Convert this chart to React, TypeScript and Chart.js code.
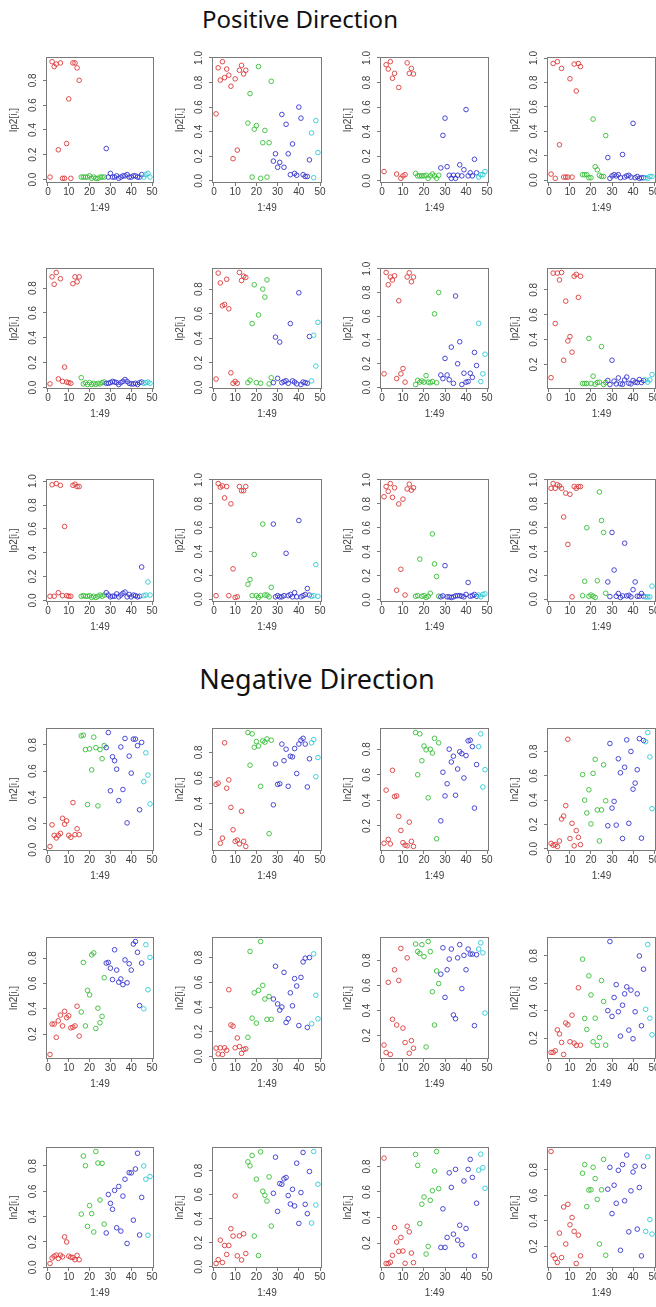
import React, { useEffect, useRef } from 'react';
import { Chart, registerables } from 'chart.js';

Chart.register(...registerables);

// ---------- data ----------
const xIndex = [
  1, 2, 3, 4, 5, 6, 7, 8, 9, 10, 11, 12, 13, 14, 15, 16, 17, 18, 19, 20, 21, 22, 23, 24, 25,
  26, 27, 28, 29, 30, 31, 32, 33, 34, 35, 36, 37, 38, 39, 40, 41, 42, 43, 44, 45, 46, 47, 48, 49,
];
const groupSizes = [15, 12, 18, 4];
const groupColors = ['#DD3A3A', '#35BE35', '#3535CF', '#2CCBD6'];
const xTickValues = [0, 10, 20, 30, 40, 50];
const yTickValues = [0, 0.2, 0.4, 0.6, 0.8, 1.0];

const sectionTitles = ['Positive Direction', 'Negative Direction'];
const yTitles = ['lp2[i,]', 'ln2[i,]'];
const xTitle = '1:49';

const pos1 = [0.02,0.95,0.91,0.93,0.24,0.94,0.01,0.01,0.29,0.65,0.01,0.94,0.94,0.90,0.80, 0.02,0.02,0.02,0.02,0.03,0.01,0.02,0.01,0.01,0.02,0.02,0.02, 0.25,0.02,0.05,0.02,0.02,0.03,0.01,0.02,0.03,0.03,0.04,0.02,0.02,0.03,0.03,0.02,0.02,0.04, 0.02,0.04,0.05,0.02];
const pos2 = [0.545,0.92,0.82,0.97,0.84,0.91,0.86,0.77,0.18,0.83,0.25,0.90,0.94,0.87,0.90, 0.47,0.71,0.03,0.42,0.45,0.93,0.02,0.31,0.41,0.03,0.31,0.81, 0.16,0.22,0.11,0.15,0.54,0.11,0.46,0.22,0.05,0.30,0.06,0.045,0.60,0.51,0.05,0.035,0.035,0.17, 0.39,0.025,0.49,0.23];
const pos3 = [0.075,0.945,0.91,0.97,0.835,0.875,0.055,0.76,0.02,0.04,0.05,0.96,0.875,0.915,0.87, 0.06,0.04,0.04,0.04,0.04,0.045,0.02,0.04,0.055,0.04,0.02,0.045, 0.105,0.37,0.51,0.115,0.045,0.02,0.045,0.02,0.045,0.13,0.04,0.09,0.58,0.04,0.065,0.04,0.175,0.065, 0.03,0.05,0.05,0.075];
const pos4 = [0.05,0.955,0.015,0.97,0.29,0.915,0.025,0.025,0.025,0.83,0.025,0.95,0.73,0.955,0.93, 0.045,0.045,0.045,0.02,0.02,0.50,0.11,0.085,0.04,0.03,0.03,0.365, 0.185,0.015,0.035,0.045,0.035,0.045,0.02,0.21,0.025,0.035,0.04,0.025,0.465,0.02,0.03,0.015,0.02,0.02, 0.02,0.015,0.03,0.03];
const pos5 = [0.03,0.89,0.83,0.925,0.07,0.875,0.05,0.165,0.045,0.04,0.035,0.835,0.89,0.85,0.89, 0.08,0.03,0.04,0.025,0.04,0.025,0.035,0.025,0.035,0.03,0.04,0.045, 0.035,0.035,0.04,0.05,0.045,0.04,0.025,0.04,0.05,0.065,0.05,0.035,0.03,0.03,0.035,0.025,0.04,0.045, 0.035,0.04,0.045,0.035];
const pos6 = [0.07,0.93,0.85,0.665,0.675,0.88,0.64,0.12,0.035,0.05,0.035,0.935,0.87,0.905,0.895, 0.04,0.06,0.52,0.835,0.04,0.59,0.035,0.80,0.735,0.875,0.03,0.08, 0.04,0.41,0.075,0.37,0.04,0.05,0.055,0.035,0.52,0.055,0.045,0.03,0.77,0.025,0.045,0.04,0.035,0.415, 0.055,0.425,0.175,0.53];
const pos7 = [0.115,0.968,0.865,0.93,0.905,0.94,0.075,0.73,0.115,0.16,0.045,0.93,0.965,0.89,0.93, 0.025,0.06,0.045,0.055,0.045,0.10,0.045,0.04,0.05,0.62,0.04,0.80, 0.105,0.075,0.245,0.105,0.065,0.34,0.035,0.77,0.20,0.385,0.025,0.12,0.045,0.05,0.12,0.085,0.295,0.185, 0.54,0.05,0.115,0.28];
const pos8 = [0.095,0.935,0.53,0.935,0.88,0.94,0.235,0.71,0.39,0.425,0.30,0.91,0.925,0.74,0.91, 0.048,0.048,0.048,0.41,0.048,0.107,0.043,0.056,0.059,0.345,0.04,0.056, 0.072,0.04,0.235,0.067,0.045,0.093,0.045,0.042,0.077,0.10,0.05,0.045,0.072,0.059,0.056,0.08,0.056,0.072, 0.077,0.059,0.077,0.12];
const pos9 = [0.035,0.97,0.035,0.98,0.065,0.965,0.04,0.62,0.04,0.035,0.035,0.965,0.975,0.955,0.955, 0.035,0.04,0.035,0.035,0.04,0.025,0.035,0.025,0.035,0.045,0.035,0.045, 0.065,0.045,0.03,0.035,0.035,0.055,0.03,0.045,0.06,0.07,0.03,0.05,0.03,0.045,0.04,0.03,0.035,0.28, 0.04,0.045,0.155,0.045];
const pos10 = [0.03,0.97,0.94,0.95,0.85,0.945,0.03,0.80,0.255,0.015,0.02,0.945,0.91,0.91,0.945, 0.125,0.165,0.03,0.375,0.03,0.015,0.03,0.63,0.035,0.035,0.02,0.10, 0.63,0.02,0.03,0.02,0.02,0.03,0.385,0.03,0.04,0.02,0.055,0.02,0.66,0.02,0.03,0.04,0.09,0.035, 0.025,0.03,0.29,0.025];
const pos11 = [0.86,0.945,0.905,0.97,0.855,0.935,0.08,0.80,0.255,0.84,0.04,0.925,0.965,0.915,0.935, 0.03,0.035,0.34,0.03,0.035,0.02,0.03,0.055,0.55,0.30,0.195,0.03, 0.025,0.033,0.285,0.025,0.025,0.02,0.025,0.033,0.035,0.035,0.03,0.025,0.045,0.145,0.03,0.035,0.045,0.03, 0.04,0.025,0.045,0.05];
const pos12 = [0.93,0.97,0.93,0.96,0.95,0.93,0.69,0.89,0.46,0.88,0.02,0.945,0.93,0.945,0.945, 0.03,0.15,0.60,0.025,0.035,0.025,0.015,0.155,0.90,0.66,0.56,0.05, 0.145,0.022,0.56,0.245,0.025,0.048,0.015,0.028,0.47,0.028,0.033,0.02,0.08,0.145,0.025,0.025,0.048,0.025, 0.02,0.02,0.02,0.11];

const neg1 = [0.025,0.19,0.11,0.09,0.11,0.125,0.24,0.195,0.22,0.11,0.095,0.36,0.115,0.16,0.115, 0.87,0.875,0.765,0.345,0.77,0.61,0.86,0.78,0.335,0.765,0.695,0.795, 0.78,0.895,0.45,0.71,0.68,0.615,0.375,0.785,0.46,0.85,0.205,0.715,0.585,0.845,0.845,0.795,0.305,0.82, 0.52,0.74,0.57,0.35];
const neg2 = [0.55,0.56,0.09,0.13,0.875,0.52,0.585,0.37,0.195,0.105,0.115,0.085,0.34,0.105,0.065, 0.955,0.70,0.945,0.84,0.885,0.85,0.535,0.89,0.88,0.905,0.165,0.895, 0.39,0.71,0.55,0.555,0.865,0.735,0.825,0.535,0.77,0.765,0.83,0.635,0.865,0.895,0.91,0.865,0.53,0.75, 0.875,0.90,0.61,0.76];
const neg3 = [0.065,0.48,0.095,0.06,0.635,0.43,0.435,0.275,0.165,0.07,0.05,0.045,0.23,0.08,0.04, 0.93,0.60,0.92,0.71,0.825,0.795,0.42,0.80,0.77,0.885,0.10,0.85, 0.24,0.62,0.435,0.53,0.80,0.70,0.745,0.44,0.645,0.78,0.765,0.575,0.75,0.865,0.87,0.82,0.34,0.68, 0.82,0.92,0.505,0.64];
const neg4 = [0.045,0.03,0.035,0.02,0.065,0.245,0.27,0.355,0.90,0.085,0.21,0.025,0.15,0.095,0.035, 0.61,0.40,0.295,0.485,0.205,0.62,0.735,0.32,0.065,0.32,0.69,0.395, 0.19,0.865,0.335,0.39,0.195,0.74,0.625,0.085,0.67,0.895,0.21,0.80,0.49,0.54,0.65,0.905,0.088,0.89, 0.88,0.955,0.755,0.33];
const neg5 = [0.04,0.28,0.28,0.175,0.305,0.35,0.265,0.38,0.33,0.345,0.25,0.255,0.265,0.42,0.185, 0.375,0.765,0.265,0.545,0.51,0.825,0.84,0.245,0.405,0.29,0.34,0.645, 0.76,0.765,0.72,0.63,0.865,0.705,0.61,0.635,0.59,0.785,0.605,0.755,0.705,0.91,0.93,0.845,0.425,0.76, 0.40,0.905,0.55,0.805];
const neg6 = [0.067,0.02,0.07,0.016,0.07,0.05,0.54,0.255,0.245,0.07,0.15,0.08,0.025,0.057,0.062, 0.155,0.85,0.31,0.515,0.27,0.535,0.93,0.575,0.465,0.30,0.485,0.30, 0.465,0.73,0.425,0.375,0.40,0.68,0.275,0.305,0.515,0.41,0.63,0.57,0.25,0.64,0.765,0.795,0.235,0.80, 0.265,0.83,0.495,0.305];
const neg7 = [0.125,0.065,0.625,0.05,0.33,0.725,0.285,0.64,0.895,0.26,0.145,0.82,0.06,0.16,0.10, 0.93,0.87,0.855,0.925,0.83,0.11,0.95,0.87,0.55,0.285,0.715,0.615, 0.69,0.90,0.505,0.725,0.81,0.89,0.365,0.335,0.82,0.925,0.575,0.84,0.725,0.89,0.85,0.85,0.28,0.845, 0.89,0.94,0.86,0.38];
const neg8 = [0.095,0.095,0.107,0.26,0.23,0.168,0.08,0.31,0.297,0.173,0.367,0.163,0.146,0.567,0.148, 0.776,0.343,0.263,0.654,0.515,0.173,0.345,0.146,0.204,0.62,0.467,0.148, 0.40,0.905,0.358,0.496,0.59,0.392,0.214,0.44,0.523,0.574,0.258,0.55,0.195,0.392,0.523,0.80,0.29,0.703, 0.41,0.883,0.345,0.224];
const neg9 = [0.03,0.073,0.088,0.096,0.07,0.096,0.083,0.24,0.20,0.088,0.08,0.078,0.06,0.094,0.06, 0.42,0.878,0.802,0.323,0.487,0.424,0.279,0.914,0.823,0.531,0.82,0.341, 0.271,0.575,0.505,0.458,0.607,0.312,0.638,0.286,0.562,0.695,0.188,0.747,0.745,0.372,0.776,0.90,0.255,0.552, 0.80,0.695,0.253,0.716];
const neg10 = [0.028,0.06,0.222,0.036,0.178,0.103,0.178,0.317,0.256,0.589,0.092,0.258,0.058,0.275,0.111, 0.872,0.839,0.925,0.256,0.728,0.094,0.955,0.628,0.594,0.547,0.747,0.339, 0.611,0.911,0.461,0.692,0.686,0.731,0.742,0.592,0.522,0.644,0.506,0.861,0.361,0.617,0.95,0.519,0.442,0.792, 0.364,0.958,0.514,0.686];
const neg11 = [0.865,0.04,0.04,0.05,0.104,0.322,0.208,0.135,0.244,0.138,0.042,0.332,0.288,0.122,0.047, 0.894,0.808,0.353,0.504,0.561,0.114,0.174,0.535,0.61,0.764,0.917,0.626, 0.166,0.468,0.166,0.244,0.75,0.636,0.27,0.777,0.223,0.34,0.187,0.686,0.314,0.777,0.855,0.714,0.099,0.512, 0.771,0.896,0.79,0.629];
const neg12 = [0.945,0.13,0.104,0.073,0.304,0.112,0.509,0.218,0.53,0.369,0.426,0.317,0.065,0.288,0.125, 0.774,0.842,0.512,0.642,0.644,0.821,0.732,0.569,0.218,0.644,0.883,0.13, 0.649,0.821,0.457,0.68,0.538,0.797,0.169,0.842,0.558,0.917,0.314,0.636,0.784,0.829,0.335,0.662,0.125,0.829, 0.317,0.904,0.41,0.296];

const positiveSeries = [pos1, pos2, pos3, pos4, pos5, pos6, pos7, pos8, pos9, pos10, pos11, pos12];
const negativeSeries = [neg1, neg2, neg3, neg4, neg5, neg6, neg7, neg8, neg9, neg10, neg11, neg12];

// ---------- layout ----------
const COL_LEFT = [46, 212, 380, 547];
const COL_WIDTH = [108, 110, 109, 109];
const ROW_TOP = [57, 268, 479, 728, 937, 1147];
const ROW_HEIGHT = [126, 121, 123, 123, 122, 121];
const Y_AXIS_W = 40;
const X_AXIS_H = 31;
const PAD_T = 10;
const PAD_R = 10;

const TEXT_COLOR = '#404040';
const BOX_COLOR = '#7a7a7a';
const FONT_FAMILY = '"Liberation Sans", Arial, Helvetica, sans-serif';

Chart.defaults.font.family = FONT_FAMILY;

const pointColors: string[] = [];
groupSizes.forEach((n, g) => {
  for (let k = 0; k < n; k++) pointColors.push(groupColors[g]);
});

const boxPlugin = {
  id: 'rbox',
  afterDatasetsDraw(chart: any) {
    const { ctx, chartArea: a } = chart;
    ctx.save();
    ctx.strokeStyle = BOX_COLOR;
    ctx.lineWidth = 1;
    const l = Math.round(a.left) + 0.5;
    const t = Math.round(a.top) + 0.5;
    const r = Math.round(a.right) - 0.5;
    const b = Math.round(a.bottom) - 0.5;
    ctx.strokeRect(l, t, r - l, b - t);
    ctx.restore();
  },
};

function makeConfig(values: number[], yTitle: string): any {
  const lo = Math.min(...values);
  const hi = Math.max(...values);
  const pad = (hi - lo) * 0.04;
  const xLo = xIndex[0];
  const xHi = xIndex[xIndex.length - 1];
  const xPad = (xHi - xLo) * 0.04;
  const font = { size: 10, family: FONT_FAMILY };
  return {
    type: 'scatter',
    data: {
      datasets: [
        {
          data: values.map((v, i) => ({ x: xIndex[i], y: v })),
          pointStyle: 'circle',
          pointRadius: 2.3,
          pointBorderWidth: 0.9,
          pointBackgroundColor: 'rgba(0,0,0,0)',
          pointBorderColor: pointColors,
          showLine: false,
          clip: false,
        },
      ],
    },
    options: {
      animation: false,
      responsive: false,
      events: [],
      layout: { padding: { top: PAD_T, right: PAD_R, left: 0, bottom: 0 } },
      plugins: { legend: { display: false }, tooltip: { enabled: false } },
      scales: {
        x: {
          type: 'linear',
          min: xLo - xPad,
          max: xHi + xPad,
          afterBuildTicks: (s: any) => {
            s.ticks = xTickValues.filter((v) => v >= s.min && v <= s.max).map((v) => ({ value: v }));
          },
          afterFit: (s: any) => {
            s.height = X_AXIS_H;
          },
          grid: { display: true, drawOnChartArea: false, drawTicks: true, tickLength: 3, color: BOX_COLOR },
          border: { display: false },
          ticks: {
            font,
            color: TEXT_COLOR,
            padding: 0,
            maxRotation: 0,
            minRotation: 0,
            autoSkip: false,
            callback: (v: any) => String(v),
          },
          title: { display: true, text: xTitle, font, color: TEXT_COLOR, padding: { top: 0, bottom: 0 } },
        },
        y: {
          type: 'linear',
          min: lo - pad,
          max: hi + pad,
          afterBuildTicks: (s: any) => {
            s.ticks = yTickValues
              .filter((v) => v >= s.min - 1e-9 && v <= s.max + 1e-9)
              .map((v) => ({ value: v }));
          },
          afterFit: (s: any) => {
            s.width = Y_AXIS_W;
          },
          grid: { display: true, drawOnChartArea: false, drawTicks: true, tickLength: 3, color: BOX_COLOR },
          border: { display: false },
          ticks: {
            font,
            color: TEXT_COLOR,
            padding: 2.5,
            minRotation: 90,
            maxRotation: 90,
            crossAlign: 'center',
            autoSkip: false,
            callback: (v: any) => Number(v).toFixed(1),
          },
          title: { display: true, text: yTitle, font, color: TEXT_COLOR, padding: { top: 2, bottom: 0 } },
        },
      },
    },
    plugins: [boxPlugin],
  };
}

function Panel(props: { values: number[]; yTitle: string; row: number; col: number }) {
  const ref = useRef<HTMLCanvasElement>(null);
  const { values, yTitle, row, col } = props;
  const w = Y_AXIS_W + COL_WIDTH[col] + PAD_R;
  const h = PAD_T + ROW_HEIGHT[row] + X_AXIS_H;
  const left = COL_LEFT[col] - Y_AXIS_W;
  const top = ROW_TOP[row] - PAD_T;
  useEffect(() => {
    if (!ref.current) return;
    const chart = new Chart(ref.current, makeConfig(values, yTitle));
    return () => chart.destroy();
  }, [values, yTitle]);
  return (
    <canvas
      ref={ref}
      width={w}
      height={h}
      style={{ position: 'absolute', left, top, width: w, height: h, display: 'block' }}
    />
  );
}

export default function App() {
  const panels: React.ReactNode[] = [];
  positiveSeries.forEach((vals, i) => {
    panels.push(
      <Panel key={'p' + i} values={vals} yTitle={yTitles[0]} row={Math.floor(i / 4)} col={i % 4} />
    );
  });
  negativeSeries.forEach((vals, i) => {
    panels.push(
      <Panel key={'n' + i} values={vals} yTitle={yTitles[1]} row={3 + Math.floor(i / 4)} col={i % 4} />
    );
  });
  const titleStyle: React.CSSProperties = {
    position: 'absolute',
    fontFamily: '"Noto Sans", "DejaVu Sans", sans-serif',
    color: '#111',
    whiteSpace: 'nowrap',
    transform: 'translate(-50%, -50%)',
    lineHeight: 1,
  };
  return (
    <div
      style={{
        position: 'absolute',
        left: 0,
        top: 0,
        width: 656,
        height: 1307,
        overflow: 'hidden',
        background: '#fff',
      }}
    >
      <div style={{ ...titleStyle, left: 300, top: 19, fontSize: 24 }}>{sectionTitles[0]}</div>
      <div style={{ ...titleStyle, left: 317, top: 678, fontSize: 27 }}>{sectionTitles[1]}</div>
      {panels}
    </div>
  );
}
